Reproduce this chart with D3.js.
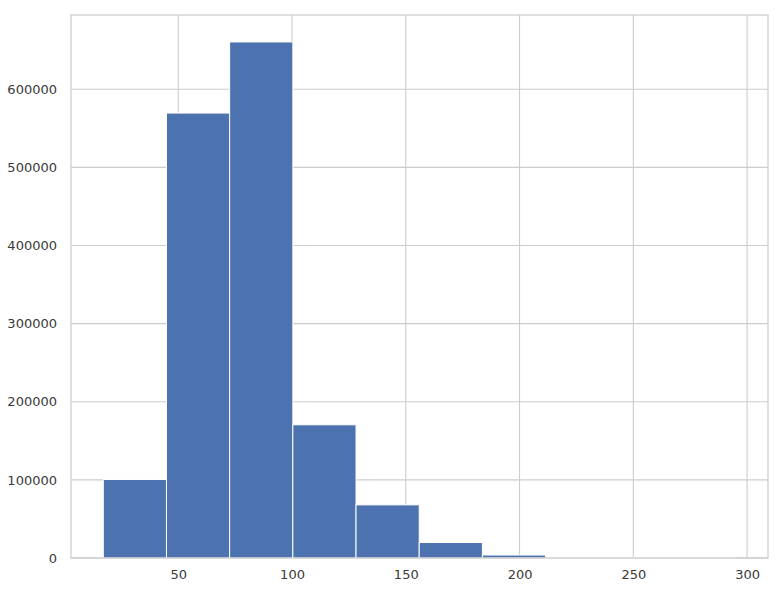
<!DOCTYPE html>
<html>
<head>
<meta charset="utf-8">
<script src="https://cdn.jsdelivr.net/npm/d3@7"></script>
<style>
  body { margin: 0; background: #fff; }
  .tick text { font-family: "DejaVu Sans", sans-serif; font-size: 13px; fill: #3a3a3a; }
</style>
</head>
<body>
<div id="chart"></div>
<script>
// histogram bins (left edges) and counts
var binStart = 17.05, binWidth = 27.77;
var counts = [100500, 569500, 660500, 170500, 68000, 19800, 3800, 300, 60, 10];
var xTicks = [50, 100, 150, 200, 250, 300];
var yTicks = [0, 100000, 200000, 300000, 400000, 500000, 600000];

var width = 779, height = 591,
    margin = { top: 15, right: 11, bottom: 33, left: 71 };
var w = width - margin.left - margin.right,
    h = height - margin.top - margin.bottom;

var bins = counts.map(function(c, i) {
  return { x0: binStart + i * binWidth, x1: binStart + (i + 1) * binWidth, count: c };
});

var svg = d3.select("#chart").append("svg")
  .attr("width", width)
  .attr("height", height)
  .append("g")
  .attr("transform", "translate(" + margin.left + "," + margin.top + ")");

var x = d3.scaleLinear().domain([2.86, 309.2]).range([0, w]);
var y = d3.scaleLinear().domain([0, 695000]).range([h, 0]);

// grid
svg.selectAll(".vgrid").data(xTicks).enter().append("line")
  .attr("x1", function(d){ return x(d); }).attr("x2", function(d){ return x(d); })
  .attr("y1", 0).attr("y2", h)
  .attr("stroke", "#cccccc").attr("stroke-width", 1.1);
svg.selectAll(".hgrid").data(yTicks).enter().append("line")
  .attr("y1", function(d){ return y(d); }).attr("y2", function(d){ return y(d); })
  .attr("x1", 0).attr("x2", w)
  .attr("stroke", "#cccccc").attr("stroke-width", 1.1);

// bars
svg.selectAll(".bar").data(bins).enter().append("rect")
  .attr("x", function(d){ return x(d.x0); })
  .attr("width", function(d){ return x(d.x1) - x(d.x0); })
  .attr("y", function(d){ return y(d.count); })
  .attr("height", function(d){ return h - y(d.count); })
  .attr("fill", "#4c72b0")
  .attr("stroke", "#ffffff")
  .attr("stroke-width", 1);

// axes (no tick marks, seaborn whitegrid look)
var xAxis = svg.append("g")
  .attr("transform", "translate(0," + h + ")")
  .call(d3.axisBottom(x).tickValues(xTicks).tickSize(0).tickPadding(12));
var yAxis = svg.append("g")
  .call(d3.axisLeft(y).tickValues(yTicks).tickFormat(d3.format("d")).tickSize(0).tickPadding(14));
xAxis.select(".domain").remove();
yAxis.select(".domain").remove();

// spines
svg.append("rect")
  .attr("x", 0).attr("y", 0).attr("width", w).attr("height", h)
  .attr("fill", "none").attr("stroke", "#cccccc").attr("stroke-width", 1.25);
</script>
</body>
</html>
